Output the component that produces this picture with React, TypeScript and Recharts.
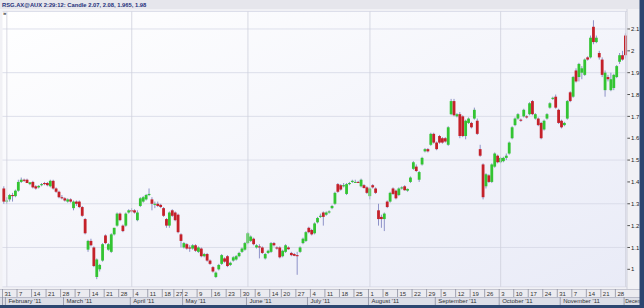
import React from 'react';
import { ComposedChart, Bar, XAxis, YAxis, CartesianGrid, ReferenceLine } from 'recharts';

// [day, open, high, low, close]
type Ohlc = [number, number, number, number, number];

const jan: Ohlc[] = [[31, 1.37, 1.38, 1.3, 1.31]];
const feb: Ohlc[] = [
  [1, 1.31, 1.33, 1.3, 1.315], [2, 1.32, 1.345, 1.31, 1.34], [3, 1.34, 1.35, 1.31, 1.335],
  [4, 1.335, 1.365, 1.33, 1.36], [7, 1.36, 1.41, 1.355, 1.4], [8, 1.4, 1.42, 1.395, 1.41],
  [9, 1.41, 1.415, 1.4, 1.405], [10, 1.41, 1.415, 1.395, 1.395], [11, 1.39, 1.4, 1.385, 1.398],
  [14, 1.4, 1.405, 1.37, 1.375], [15, 1.38, 1.385, 1.365, 1.37], [16, 1.375, 1.385, 1.37, 1.382],
  [17, 1.385, 1.395, 1.38, 1.39], [18, 1.395, 1.4, 1.385, 1.39], [21, 1.395, 1.4, 1.38, 1.385],
  [22, 1.38, 1.41, 1.375, 1.405], [23, 1.405, 1.41, 1.365, 1.37], [24, 1.37, 1.375, 1.35, 1.355],
  [25, 1.355, 1.36, 1.325, 1.33], [28, 1.33, 1.34, 1.32, 1.325],
];
const mar: Ohlc[] = [
  [1, 1.325, 1.33, 1.31, 1.315], [2, 1.31, 1.325, 1.305, 1.32], [3, 1.32, 1.325, 1.305, 1.31],
  [4, 1.28, 1.315, 1.27, 1.31], [7, 1.31, 1.315, 1.29, 1.3], [8, 1.31, 1.315, 1.28, 1.285],
  [9, 1.285, 1.29, 1.24, 1.245], [10, 1.23, 1.235, 1.16, 1.165], [11, 1.09, 1.135, 1.08, 1.13],
  [14, 1.13, 1.14, 1.105, 1.11], [15, 1.1, 1.105, 1.01, 1.015], [16, 0.965, 1.05, 0.955, 1.045],
  [17, 1.0, 1.025, 0.99, 1.02], [18, 1.04, 1.12, 1.035, 1.115], [21, 1.155, 1.16, 1.115, 1.12],
  [22, 1.09, 1.12, 1.085, 1.115], [23, 1.08, 1.165, 1.075, 1.16], [24, 1.16, 1.19, 1.155, 1.19],
  [25, 1.2, 1.26, 1.195, 1.255], [28, 1.255, 1.26, 1.22, 1.225], [29, 1.2, 1.205, 1.17, 1.175],
  [30, 1.2, 1.26, 1.195, 1.255], [31, 1.26, 1.275, 1.255, 1.27],
];
const apr: Ohlc[] = [
  [1, 1.27, 1.28, 1.26, 1.265], [4, 1.27, 1.275, 1.255, 1.26], [5, 1.225, 1.27, 1.22, 1.26],
  [6, 1.29, 1.33, 1.285, 1.325], [7, 1.31, 1.335, 1.305, 1.33], [8, 1.32, 1.345, 1.315, 1.34],
  [11, 1.34, 1.37, 1.335, 1.345], [12, 1.32, 1.33, 1.27, 1.3], [13, 1.295, 1.31, 1.28, 1.3],
  [14, 1.3, 1.31, 1.285, 1.29], [15, 1.295, 1.3, 1.28, 1.285], [18, 1.28, 1.285, 1.24, 1.245],
  [19, 1.23, 1.235, 1.19, 1.2], [20, 1.2, 1.265, 1.19, 1.26], [21, 1.27, 1.275, 1.24, 1.245],
  [27, 1.26, 1.265, 1.22, 1.225], [28, 1.25, 1.255, 1.165, 1.17], [29, 1.16, 1.165, 1.1, 1.13],
];
const may: Ohlc[] = [
  [2, 1.1, 1.125, 1.095, 1.12], [3, 1.115, 1.12, 1.09, 1.095], [4, 1.1, 1.11, 1.08, 1.095],
  [5, 1.095, 1.115, 1.09, 1.11], [6, 1.11, 1.115, 1.08, 1.085], [9, 1.08, 1.105, 1.075, 1.1],
  [10, 1.095, 1.1, 1.055, 1.06], [11, 1.06, 1.075, 1.055, 1.07], [12, 1.07, 1.075, 1.035, 1.04],
  [13, 1.04, 1.045, 1.02, 1.025], [16, 1.01, 1.015, 0.985, 0.99], [17, 0.965, 0.99, 0.96, 0.985],
  [18, 1.0, 1.025, 0.995, 1.02], [19, 1.025, 1.07, 1.02, 1.065], [20, 1.05, 1.055, 1.03, 1.035],
  [23, 1.06, 1.065, 1.01, 1.015], [24, 1.02, 1.035, 1.015, 1.03], [25, 1.04, 1.06, 1.035, 1.055],
  [26, 1.045, 1.065, 1.04, 1.06], [27, 1.06, 1.08, 1.055, 1.075], [30, 1.08, 1.1, 1.075, 1.095],
  [31, 1.09, 1.125, 1.085, 1.12],
];
const jun: Ohlc[] = [
  [1, 1.12, 1.17, 1.115, 1.165], [2, 1.13, 1.155, 1.125, 1.15], [3, 1.14, 1.145, 1.11, 1.115],
  [6, 1.1, 1.115, 1.095, 1.11], [7, 1.105, 1.115, 1.05, 1.1], [8, 1.1, 1.105, 1.07, 1.075],
  [9, 1.05, 1.075, 1.045, 1.07], [10, 1.075, 1.09, 1.07, 1.085], [14, 1.08, 1.125, 1.075, 1.12],
  [15, 1.12, 1.125, 1.105, 1.11], [16, 1.1, 1.105, 1.09, 1.095], [17, 1.1, 1.105, 1.05, 1.055],
  [20, 1.06, 1.09, 1.055, 1.085], [21, 1.08, 1.115, 1.075, 1.11], [22, 1.1, 1.105, 1.09, 1.092],
  [23, 1.075, 1.08, 1.06, 1.065], [24, 1.07, 1.075, 1.06, 1.062], [27, 1.065, 1.08, 0.975, 1.06],
  [28, 1.08, 1.105, 1.075, 1.1], [29, 1.12, 1.145, 1.115, 1.14], [30, 1.13, 1.175, 1.125, 1.17],
];
const jul: Ohlc[] = [
  [1, 1.19, 1.195, 1.165, 1.17], [4, 1.18, 1.185, 1.155, 1.16], [5, 1.165, 1.215, 1.16, 1.21],
  [6, 1.215, 1.24, 1.21, 1.235], [7, 1.24, 1.255, 1.235, 1.245], [8, 1.26, 1.265, 1.2, 1.24],
  [11, 1.25, 1.265, 1.245, 1.26], [12, 1.26, 1.27, 1.255, 1.265], [13, 1.28, 1.295, 1.275, 1.29],
  [14, 1.3, 1.355, 1.295, 1.35], [15, 1.39, 1.395, 1.35, 1.355], [18, 1.385, 1.39, 1.36, 1.365],
  [19, 1.38, 1.395, 1.375, 1.385], [20, 1.345, 1.395, 1.34, 1.39], [21, 1.39, 1.4, 1.385, 1.395],
  [22, 1.4, 1.41, 1.395, 1.405], [25, 1.4, 1.41, 1.395, 1.4], [26, 1.4, 1.405, 1.395, 1.398],
  [27, 1.38, 1.415, 1.375, 1.41], [28, 1.385, 1.39, 1.37, 1.372], [29, 1.375, 1.38, 1.345, 1.35],
];
const aug: Ohlc[] = [
  [1, 1.335, 1.375, 1.32, 1.37], [2, 1.385, 1.39, 1.37, 1.375], [3, 1.37, 1.375, 1.345, 1.35],
  [4, 1.27, 1.3, 1.2, 1.23], [5, 1.24, 1.25, 1.19, 1.23], [8, 1.23, 1.26, 1.175, 1.255],
  [9, 1.31, 1.315, 1.28, 1.285], [10, 1.31, 1.355, 1.305, 1.35], [11, 1.37, 1.375, 1.34, 1.345],
  [12, 1.36, 1.365, 1.32, 1.325], [15, 1.34, 1.375, 1.335, 1.37], [16, 1.37, 1.38, 1.365, 1.375],
  [17, 1.38, 1.385, 1.36, 1.362], [18, 1.36, 1.37, 1.355, 1.368], [19, 1.4, 1.425, 1.395, 1.42],
  [22, 1.46, 1.495, 1.455, 1.49], [23, 1.47, 1.48, 1.445, 1.45], [24, 1.41, 1.45, 1.4, 1.445],
  [25, 1.48, 1.515, 1.475, 1.51], [26, 1.54, 1.555, 1.535, 1.55], [29, 1.55, 1.555, 1.535, 1.54],
  [30, 1.57, 1.625, 1.565, 1.62], [31, 1.62, 1.625, 1.575, 1.58],
];
const sep: Ohlc[] = [
  [1, 1.58, 1.585, 1.545, 1.55], [2, 1.61, 1.615, 1.575, 1.58], [5, 1.6, 1.605, 1.575, 1.58],
  [6, 1.6, 1.605, 1.58, 1.585], [7, 1.57, 1.655, 1.565, 1.65], [8, 1.71, 1.78, 1.705, 1.77],
  [9, 1.77, 1.78, 1.7, 1.705], [12, 1.7, 1.715, 1.695, 1.71], [13, 1.71, 1.72, 1.6, 1.61],
  [14, 1.7, 1.705, 1.605, 1.61], [15, 1.61, 1.685, 1.595, 1.68], [16, 1.67, 1.695, 1.665, 1.69],
  [19, 1.67, 1.675, 1.645, 1.65], [20, 1.69, 1.74, 1.685, 1.73], [21, 1.68, 1.69, 1.615, 1.62],
  [22, 1.55, 1.57, 1.515, 1.52], [23, 1.48, 1.485, 1.32, 1.33], [26, 1.38, 1.44, 1.37, 1.435],
  [27, 1.43, 1.435, 1.395, 1.4], [28, 1.4, 1.485, 1.395, 1.48], [29, 1.47, 1.535, 1.465, 1.53],
  [30, 1.52, 1.525, 1.485, 1.49],
];
const oct: Ohlc[] = [
  [3, 1.49, 1.515, 1.485, 1.51], [4, 1.495, 1.515, 1.49, 1.51], [5, 1.51, 1.53, 1.5, 1.52],
  [6, 1.53, 1.585, 1.525, 1.58], [7, 1.6, 1.655, 1.595, 1.65], [10, 1.66, 1.695, 1.655, 1.69],
  [11, 1.69, 1.715, 1.685, 1.71], [12, 1.685, 1.69, 1.675, 1.68], [13, 1.7, 1.735, 1.695, 1.73],
  [14, 1.7, 1.705, 1.69, 1.695], [17, 1.71, 1.765, 1.705, 1.76], [18, 1.77, 1.775, 1.705, 1.71],
  [19, 1.69, 1.715, 1.685, 1.71], [20, 1.69, 1.695, 1.655, 1.66], [21, 1.67, 1.675, 1.595, 1.6],
  [24, 1.64, 1.685, 1.635, 1.68], [25, 1.69, 1.715, 1.685, 1.71], [26, 1.74, 1.765, 1.735, 1.76],
  [27, 1.78, 1.79, 1.775, 1.785], [28, 1.79, 1.8, 1.735, 1.74], [31, 1.73, 1.735, 1.665, 1.67],
];
const nov: Ohlc[] = [
  [1, 1.68, 1.685, 1.645, 1.65], [2, 1.66, 1.675, 1.655, 1.67], [3, 1.69, 1.775, 1.685, 1.77],
  [4, 1.81, 1.815, 1.765, 1.77], [7, 1.79, 1.885, 1.785, 1.88], [8, 1.91, 1.92, 1.855, 1.86],
  [9, 1.88, 1.945, 1.86, 1.94], [10, 1.9, 1.93, 1.87, 1.92], [11, 1.89, 1.965, 1.885, 1.96],
  [14, 1.97, 1.975, 1.955, 1.96], [15, 1.97, 2.07, 1.965, 2.06], [16, 2.11, 2.14, 2.03, 2.04],
  [17, 2.04, 2.07, 2.035, 2.06], [18, 1.99, 2.0, 1.96, 1.97], [21, 1.96, 1.97, 1.88, 1.89],
  [22, 1.82, 1.91, 1.79, 1.9], [23, 1.88, 1.89, 1.86, 1.87], [24, 1.82, 1.9, 1.815, 1.87],
  [25, 1.83, 1.895, 1.82, 1.89], [28, 1.88, 1.935, 1.875, 1.93], [29, 1.95, 1.99, 1.94, 1.98],
  [30, 1.98, 2.0, 1.955, 1.96],
];
const dec: Ohlc[] = [[1, 2.07, 2.08, 1.965, 1.98]];

// the December label is cut short by the chart edge, as in the source picture
const monthNames = ["January '11", "February '11", "March '11", "April '11", "May '11", "June '11",
  "July '11", "August '11", "September '11", "October '11", "November '11", 'Decem'];
const monthData = [jan, feb, mar, apr, may, jun, jul, aug, sep, oct, nov, dec];
const yTicks = [1, 1.1, 1.2, 1.3, 1.4, 1.5, 1.6, 1.7, 1.8, 1.9, 2, 2.1];
const gridMonths = ['2011-1-1', '2011-3-1', '2011-5-1', '2011-7-1', '2011-9-3', '2011-11-1'];

interface Row {
  key: string; open: number; high: number; low: number; close: number;
  weekLabel: string; monthLabel: string; monthStart: boolean; lastMonth: boolean;
}

const rows: Row[] = [];
let prev: Date | null = null;
monthData.forEach((list, m) => {
  list.forEach(([day, open, high, low, close], j) => {
    const d = new Date(2011, m, day);
    const diff = prev ? Math.round((d.getTime() - prev.getTime()) / 86400000) : 99;
    const weekStart = diff >= d.getDay();
    rows.push({
      key: `2011-${m}-${day}`, open, high, low, close,
      weekLabel: weekStart ? String(day) : '',
      monthLabel: j === 0 && m > 0 ? monthNames[m] : '',
      monthStart: j === 0,
      lastMonth: m === monthData.length - 1,
    });
    prev = d;
  });
});

const GREEN = '#33c433';
const RED = '#c4212a';
const WICK = '#8e92c8';
const FONT = 'Liberation Sans, Arial, sans-serif';

const CandleShape = (props: any) => {
  const { x, y, width, height, payload } = props;
  const top = Math.min(y, y + height);
  const h = Math.abs(height);
  const range = payload.high - payload.low;
  const k = range > 0 ? h / range : 0;
  const cx = x + width / 2;
  const yOf = (v: number) => top + (payload.high - v) * k;
  const bTop = yOf(Math.max(payload.open, payload.close));
  const bBot = yOf(Math.min(payload.open, payload.close));
  const up = payload.close >= payload.open;
  return (
    <g>
      <line x1={cx} x2={cx} y1={top} y2={top + h} stroke={WICK} strokeWidth={1} />
      <rect x={cx - 1.4} y={bTop} width={2.8} height={Math.max(1, bBot - bTop)} fill={up ? GREEN : RED} />
    </g>
  );
};

const AxisTick = (props: any) => {
  const { x, payload } = props;
  const row = rows[payload.index];
  if (!row) return <g />;
  const left = x - 1.45;
  return (
    <g>
      {row.weekLabel && (
        <g>
          <line x1={left} x2={left} y1={289} y2={297} stroke="#8d8fa0" strokeWidth={0.8} />
          <text x={left + 2} y={295.5} fontSize={6} fontFamily={FONT} fill="#333">{row.weekLabel}</text>
        </g>
      )}
      {row.monthStart && (
        <g>
          <line x1={left} x2={left} y1={297} y2={305} stroke="#8d8fa0" strokeWidth={0.8} />
          {row.monthLabel && (
            <text x={row.lastMonth ? left + 1.2 : left + 3} y={303.3} fontSize={row.lastMonth ? 5.2 : 6}
              fontFamily={FONT} fill="#333">{row.monthLabel}</text>
          )}
        </g>
      )}
    </g>
  );
};

export default function App() {
  return (
    <div style={{ position: 'absolute', left: 0, top: 0, width: 644, height: 308, background: '#f1f1f5', overflow: 'hidden' }}>
      <div style={{ position: 'absolute', left: 0, top: 289, width: 644, height: 8, background: '#ebebf0', borderTop: '1px solid #c4c5d0', boxSizing: 'border-box' }} />
      <div style={{ position: 'absolute', left: 0, top: 297, width: 644, height: 8, background: '#dcdee7', borderTop: '1px solid #b8bac8', boxSizing: 'border-box' }} />
      <div style={{ position: 'absolute', left: 0, top: 0 }}>
        <ComposedChart width={644} height={308} data={rows} margin={{ top: 11.5, right: 3, bottom: 3.2, left: 2.5 }}>
          <defs>
            <linearGradient id="plotBg" x1="0" y1="0" x2="1" y2="1">
              <stop offset="0%" stopColor="#ffffff" />
              <stop offset="100%" stopColor="#e9ebf7" />
            </linearGradient>
          </defs>
          <CartesianGrid vertical={false} stroke="#d6d8e6" strokeWidth={0.8} fill="url(#plotBg)" />
          {gridMonths.map((k) => (
            <ReferenceLine key={k} x={k} stroke="#cfd0dc" strokeWidth={0.8} />
          ))}
          <XAxis dataKey="key" type="category" interval={0} height={18} tickLine={false} axisLine={false} tick={AxisTick} />
          <YAxis orientation="right" type="number" domain={[0.92, 2.18]} allowDataOverflow ticks={yTicks}
            width={14} tickSize={3} tickMargin={1} axisLine={false} tickLine={{ stroke: '#555' }}
            tick={{ fontSize: 6, fontFamily: FONT, fill: '#222' }} />
          <Bar dataKey={(d: Row) => [d.low, d.high]} barSize={3} isAnimationActive={false} shape={CandleShape} />
        </ComposedChart>
      </div>
      <svg width={644} height={308} style={{ position: 'absolute', left: 0, top: 0, pointerEvents: 'none' }}>
        <rect x={0} y={0} width={644} height={9} fill="#e6e6ec" />
        <text x={2} y={6.8} fontSize={5.8} fontWeight="bold" fontFamily={FONT} fill="#25307a">
          RSG.AX@AUX 2:29:12:  Candle 2.07, 2.08, 1.965, 1.98
        </text>
        <text x={3} y={15} fontSize={6} fontWeight="bold" fontFamily={FONT} fill="#333">»</text>
        <line x1={627} x2={627} y1={9} y2={289} stroke="#c9cad6" strokeWidth={0.8} />
        <rect x={639.5} y={0} width={4.5} height={308} fill="#2c4670" />
        <rect x={0} y={305} width={644} height={3} fill="#2c4670" />
      </svg>
    </div>
  );
}
